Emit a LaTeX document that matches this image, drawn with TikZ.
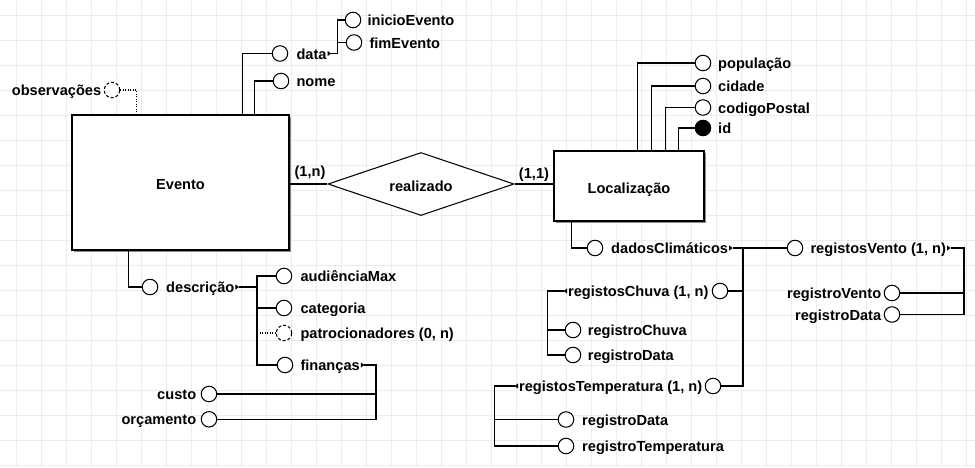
\documentclass[tikz,border=0pt]{standalone}
\usepackage{fontspec}
\setmainfont{Liberation Sans}
\usetikzlibrary{shapes.geometric,shadows,calc}
\definecolor{gridc}{RGB}{229,238,247}
\newcommand\lbfont{\fontsize{14.6}{16}\selectfont\bfseries}
\newcommand\mkR[1]{\fill (#1) -- ++(-3.5,-2.6) -- ++(0,5.2) -- cycle;}
\newcommand\mkL[1]{\fill (#1) -- ++(3.5,-2.6) -- ++(0,5.2) -- cycle;}
\begin{document}
\begin{tikzpicture}[x=1pt,y=-1pt, line width=1.05pt,
  attr/.style={circle, draw, fill=white, minimum size=15.5pt, inner sep=0pt},
  optattr/.style={attr, dash pattern=on 3pt off 2pt},
  keyattr/.style={attr, fill=black},
  lbl/.style={inner sep=0pt, font=\lbfont, anchor=base west},
  lblr/.style={lbl, anchor=base east},
  card/.style={inner sep=0pt, font=\lbfont, anchor=base},
  entity/.style={rectangle, draw, fill=white, font=\lbfont, text height=14pt, text depth=0pt,
    drop shadow={shadow xshift=2pt, shadow yshift=-2pt, fill=black!45, opacity=1}},
  rel/.style={diamond, draw, fill=white, aspect=3, inner sep=0pt, minimum width=186pt,
    minimum height=63pt, font=\lbfont, text height=14pt, text depth=0pt},
  opt/.style={dash pattern=on 1pt off 1.5pt},
  gridline/.style={draw=gridc, line width=1pt}
]
\useasboundingbox (0,0) rectangle (975,467);
\fill[white] (0,0) rectangle (975,467);
\foreach \i in {0,...,38} \draw[gridline] (16.7+25*\i,0) -- (16.7+25*\i,467);
\foreach \j in {0,...,18} \draw[gridline] (0,15+25*\j) -- (975,15+25*\j);

% entities and relationship
\node[entity, minimum width=217pt, minimum height=135pt] (evento) at (180.5,182.5) {Evento};
\node[rel] (realizado) at (421,184) {realizado};
\node[entity, minimum width=150pt, minimum height=70pt] (loc) at (629,186) {Localização};
\node[card] (card1) at (310,176) {(1,n)};
\node[card] (card2) at (534,178.3) {(1,1)};
\draw (realizado.west -| evento.east) -- (realizado.west);
\draw (realizado.east) -- (realizado.east -| loc.west);

% Evento attributes (top)
\node[attr] (c-data) at (280,53.5) {};
\node[lbl] (t-data) at (296,59) {data};
\node[attr] (c-nome) at (281,81) {};
\node[lbl] (t-nome) at (296,86.5) {nome};
\node[optattr] (c-obs) at (112,90) {};
\node[lblr] (t-obs) at (101.7,95.5) {observações};
\node[attr] (c-ini) at (353,20) {};
\node[lbl] (t-ini) at (367,25.5) {inicioEvento};
\node[attr] (c-fim) at (354,42.5) {};
\node[lbl] (t-fim) at (369,48) {fimEvento};
\draw ([xshift=170.7pt]evento.north west) |- (c-data.west);
\draw ([xshift=183pt]evento.north west) |- (c-nome.west);
\draw[opt] (c-obs.east) -| ([xshift=65.3pt]evento.north west);
\coordinate (p-data) at ($(t-data.east |- c-data)+(4,0)$);
\coordinate (j-data) at (337.3,53.5);
\mkR{p-data}
\draw (p-data) -- (j-data) |- (c-ini.west);
\draw (j-data) |- (c-fim.west);

% Localizacao attributes (top)
\node[attr] (c-pop) at (703,63) {};
\node[lbl] (t-pop) at (717.7,68.5) {população};
\node[attr] (c-cid) at (703,86) {};
\node[lbl] (t-cid) at (717.7,91.5) {cidade};
\node[attr] (c-cod) at (703,107.5) {};
\node[lbl] (t-cod) at (717.7,113) {codigoPostal};
\node[keyattr] (c-id) at (703,128) {};
\node[lbl] (t-id) at (717.7,133.5) {id};
\draw ([xshift=84.3pt]loc.north west) |- (c-pop.west);
\draw ([xshift=98.3pt]loc.north west) |- (c-cid.west);
\draw ([xshift=112.3pt]loc.north west) |- (c-cod.west);
\draw ([xshift=125.3pt]loc.north west) |- (c-id.west);

% Evento descricao
\node[attr] (c-desc) at (150,287) {};
\node[lbl] (t-desc) at (165.7,292.5) {descrição};
\draw ([xshift=57.3pt]evento.south west) |- (c-desc.west);
\coordinate (p-desc) at ($(t-desc.east |- c-desc)+(4,0)$);
\mkR{p-desc}
\coordinate (j-desc) at (257,287);
\draw (p-desc) -- (j-desc);
\node[attr] (c-aud) at (284,276) {};
\node[lbl] (t-aud) at (300,281.5) {audiênciaMax};
\node[attr] (c-cat) at (284,308) {};
\node[lbl] (t-cat) at (300,313.5) {categoria};
\node[optattr] (c-pat) at (284,333) {};
\node[lbl] (t-pat) at (300,338.5) {patrocionadores (0, n)};
\node[attr] (c-fin) at (285,365) {};
\node[lbl] (t-fin) at (300,370.5) {finanças};
\draw (j-desc) |- (c-aud.west);
\draw (j-desc) |- (c-fin.west);
\draw (j-desc |- c-cat) -- (c-cat.west);
\draw[opt] (j-desc |- c-pat) -- (c-pat.west);

% financas
\node[attr] (c-custo) at (209,394) {};
\node[lblr] (t-custo) at (196.7,399.5) {custo};
\node[attr] (c-orc) at (209,419.3) {};
\node[lblr] (t-orc) at (196.7,424.8) {orçamento};
\coordinate (p-fin) at ($(t-fin.east |- c-fin)+(4,0)$);
\mkR{p-fin}
\coordinate (j-fin) at (376,365);
\draw (p-fin) -- (j-fin) |- (c-orc.east);
\draw (j-fin |- c-custo) -- (c-custo.east);

% dadosClimaticos
\node[attr] (c-dados) at (595,248) {};
\node[lbl] (t-dados) at (610.7,253.5) {dadosClimáticos};
\draw ([xshift=18.3pt]loc.south west) |- (c-dados.west);
\coordinate (p-dados) at ($(t-dados.east |- c-dados)+(4,0)$);
\mkR{p-dados}
\coordinate (j-dados) at (743,248);
\node[attr] (c-vento) at (795,248) {};
\node[lbl] (t-vento) at (810,253.5) {registosVento (1, n)};
\node[attr] (c-chuva) at (720,291) {};
\node[lblr] (t-chuva) at (709,296.5) {registosChuva (1, n)};
\node[attr] (c-temp) at (713,386) {};
\node[lblr] (t-temp) at (702.7,391.5) {registosTemperatura (1, n)};
\draw (p-dados) -- (c-vento.west);
\draw (j-dados) |- (c-temp.east);
\draw (j-dados |- c-chuva) -- (c-chuva.east);

% registosVento
\coordinate (p-vento) at ($(t-vento.east |- c-vento)+(4,0)$);
\mkR{p-vento}
\coordinate (j-vento) at (964,248);
\node[attr] (c-rv) at (892,293) {};
\node[lblr] (t-rv) at (881.7,298.5) {registroVento};
\node[attr] (c-rvd) at (892,314.5) {};
\node[lblr] (t-rvd) at (881.7,320) {registroData};
\draw (p-vento) -- (j-vento) |- (c-rvd.east);
\draw (j-vento |- c-rv) -- (c-rv.east);

% registosChuva
\coordinate (p-chuva) at ($(t-chuva.west |- c-chuva)+(-4,0)$);
\mkL{p-chuva}
\coordinate (j-chuva) at (547.3,291);
\node[attr] (c-rc) at (573,330) {};
\node[lbl] (t-rc) at (587.3,335.5) {registroChuva};
\node[attr] (c-rcd) at (573,355) {};
\node[lbl] (t-rcd) at (587.3,360.5) {registroData};
\draw (p-chuva) -- (j-chuva) |- (c-rcd.west);
\draw (j-chuva |- c-rc) -- (c-rc.west);

% registosTemperatura
\coordinate (p-temp) at ($(t-temp.west |- c-temp)+(-4,0)$);
\mkL{p-temp}
\coordinate (j-temp) at (494.3,386);
\node[attr] (c-rtd) at (566,419.5) {};
\node[lbl] (t-rtd) at (581.7,425) {registroData};
\node[attr] (c-rtt) at (566,446) {};
\node[lbl] (t-rtt) at (581.7,451.5) {registroTemperatura};
\draw (p-temp) -- (j-temp) |- (c-rtt.west);
\draw (j-temp |- c-rtd) -- (c-rtd.west);
\end{tikzpicture}
\end{document}
